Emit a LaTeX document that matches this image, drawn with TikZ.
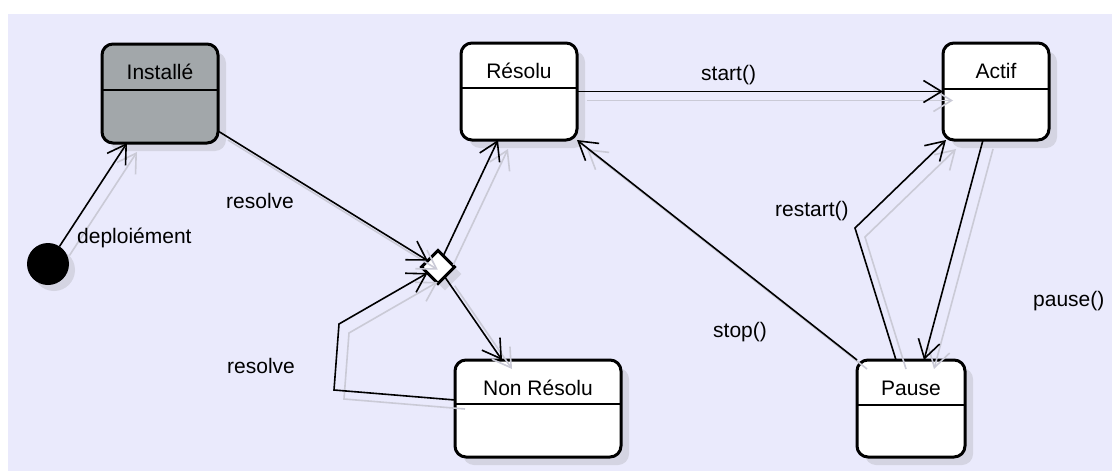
\documentclass[tikz,border=0pt]{standalone}
\usepackage{fontspec}
\setmainfont{Liberation Sans}
\usetikzlibrary{arrows.meta,shapes.geometric,calc}
\definecolor{bglav}{RGB}{234,234,252}
\definecolor{instgray}{RGB}{162,167,170}
\definecolor{shadowc}{RGB}{212,212,226}
\definecolor{edgeshadow}{RGB}{202,202,214}
\newcommand\umlstate[8]{%
  \fill[boxshadow] ({#2+8},{#3+8}) rectangle ({#4+8},{#5+8});
  \node[statebox, fill=#8, minimum width={(#4-#2)*1pt}, minimum height={(#5-#3)*1pt}] (#1) at ({(#2+#4)/2},{(#3+#5)/2}) {};
  \draw[divider] (#2,#6) -- (#4,#6);
  \node[titletext] (#1-t) at ({(#2+#4)/2},{#3+35}) {#7};
}
\newcommand\edgepair[1]{\draw[connsh] #1; \draw[conn] #1;}
\begin{document}
\begin{tikzpicture}[x=1pt,y=-1pt,
  statebox/.style={draw=black, line width=3pt, rounded corners=11pt, inner sep=0pt, outer sep=0pt},
  boxshadow/.style={fill=shadowc, rounded corners=11pt},
  titletext/.style={font=\fontsize{21}{25}\selectfont, anchor=base, inner sep=0pt},
  lbl/.style={font=\fontsize{21}{25}\selectfont, anchor=base west, inner sep=0pt},
  divider/.style={line width=1.5pt},
  conn/.style={line width=1.6pt, -{Straight Barb[length=18pt,width=22pt]}},
  connsh/.style={conn, draw=edgeshadow, transform canvas={shift={(10pt,-9pt)}}},
]
\useasboundingbox (0,0) rectangle (1112,471);
\fill[white] (0,0) rectangle (1112,471);
\fill[bglav] (8,14) rectangle (1112,471);

% states
\umlstate{inst}{102}{44}{218}{143}{90}{Installé}{instgray}
\umlstate{res}{461}{43}{577}{140}{88}{Résolu}{white}
\umlstate{act}{943}{43}{1049}{140}{89}{Actif}{white}
\umlstate{pause}{857}{360}{965}{457}{405}{Pause}{white}
\umlstate{non}{455}{360}{621}{457}{404}{Non Résolu}{white}

% initial pseudo-state
\fill[shadowc] (54,270) circle (21);
\node[circle, fill=black, minimum size=42pt, inner sep=0pt, outer sep=0pt] (init) at (48,264) {};

% choice diamond
\node[diamond, aspect=1, fill=shadowc, minimum width=33pt, minimum height=33pt, inner sep=0pt] (diash) at (445,274) {};
\node[diamond, aspect=1, draw=black, line width=3pt, fill=white, minimum width=33pt, minimum height=33pt, inner sep=0pt, outer sep=0pt] (dia) at (438,267) {};

% waypoints
\coordinate (l1) at (334,390);
\coordinate (l2) at (339,324);
\coordinate (rb) at (855,228);

% transitions
\edgepair{(init) -- ([xshift=-33pt]inst.south)}
\edgepair{([yshift=-37.5pt]inst.east) -- (dia)}
\edgepair{(dia) -- ([xshift=-21pt]res.south)}
\edgepair{(dia) -- ([xshift=-36pt]non.north)}
\edgepair{([yshift=8.5pt]non.west) -- (l1) -- (l2) -- (dia)}
\edgepair{(res.east) -- (act.west)}
\edgepair{(pause.north west) -- (res.south east)}
\edgepair{([xshift=-15pt]pause.north) -- (rb) -- ([xshift=3pt]act.south west)}
\edgepair{([xshift=-13pt]act.south) -- ([xshift=13pt]pause.north)}

% labels
\node[lbl] (t-depl) at (77,243) {deploiément};
\node[lbl] (t-res1) at (226,208) {resolve};
\node[lbl] (t-res2) at (227,373) {resolve};
\node[lbl] (t-start) at (701,80) {start()};
\node[lbl] (t-restart) at (775,216) {restart()};
\node[lbl] (t-stop) at (713,337) {stop()};
\node[lbl] (t-pause) at (1033,306) {pause()};
\end{tikzpicture}
\end{document}
